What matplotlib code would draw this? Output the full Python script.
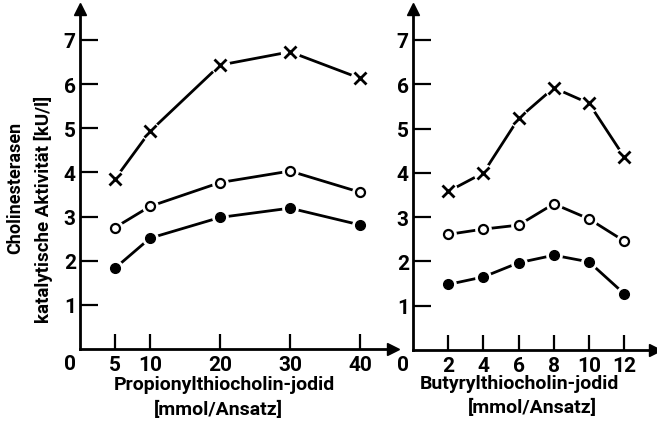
import numpy as np
import matplotlib
matplotlib.use("Agg")
import matplotlib.pyplot as plt

plt.rcParams['font.family'] = ['Roboto', 'DejaVu Sans']
plt.rcParams['font.weight'] = 'bold'

# Propionylthiocholin-jodid (left panel)
prop_x = [5, 10, 20, 30, 40]
prop_cross = [3.85, 4.93, 6.43, 6.73, 6.13]
prop_open = [2.75, 3.23, 3.77, 4.03, 3.55]
prop_filled = [1.83, 2.51, 2.98, 3.19, 2.81]

# Butyrylthiocholin-jodid (right panel)
buty_x = [2, 4, 6, 8, 10, 12]
buty_cross = [3.58, 4.00, 5.23, 5.92, 5.57, 4.36]
buty_open = [2.61, 2.73, 2.82, 3.30, 2.96, 2.46]
buty_filled = [1.48, 1.65, 1.97, 2.14, 1.99, 1.27]

y_ticks = [1, 2, 3, 4, 5, 6, 7]

W, H = 657, 427
fig = plt.figure(figsize=(W / 100, H / 100), dpi=100)

ax1 = fig.add_axes([80 / W, (H - 350) / H, 313 / W, 340 / H])
ax2 = fig.add_axes([413 / W, (H - 351) / H, 242 / W, 341 / H])


def draw(ax, x, series, xlim, xticks):
    for ys, kind in series:
        ax.plot(x, ys, color='black', lw=2.0, zorder=2)
        if kind == 'x':
            ax.plot(x, ys, ls='none', marker='o', ms=13, mfc='white', mec='white', zorder=3)
            ax.plot(x, ys, ls='none', marker='x', ms=8, mew=2.0, color='black', zorder=4)
        elif kind == 'open':
            ax.plot(x, ys, ls='none', marker='o', ms=11, mfc='white', mec='white', zorder=3)
            ax.plot(x, ys, ls='none', marker='o', ms=6.5, mfc='white', mec='black', mew=1.6, zorder=4)
        else:
            ax.plot(x, ys, ls='none', marker='o', ms=11, mfc='white', mec='white', zorder=3)
            ax.plot(x, ys, ls='none', marker='o', ms=7, color='black', zorder=4)
    ax.set_xlim(*xlim)
    ax.set_ylim(0, 7.7)
    ax.set_xticks(xticks)
    ax.set_yticks(y_ticks)
    for s in ['top', 'right']:
        ax.spines[s].set_visible(False)
    for s in ['left', 'bottom']:
        ax.spines[s].set_linewidth(2.0)
    ax.tick_params(axis='y', direction='in', length=13, width=1.6, pad=3, labelsize=15)
    ax.tick_params(axis='x', direction='in', length=11, width=1.6, pad=4, labelsize=15)
    ax.plot(1, 0, marker='>', ms=9, color='black', transform=ax.transAxes, clip_on=False)
    ax.plot(0, 1, marker='^', ms=9, color='black', transform=ax.transAxes, clip_on=False)
    ax.annotate('0', xy=(0, 0), xycoords='axes fraction', xytext=(-10, -15),
                textcoords='offset pixels', ha='center', va='center', fontsize=15)


draw(ax1, prop_x, [(prop_cross, 'x'), (prop_open, 'open'), (prop_filled, 'filled')],
     (0, 44.7), prop_x)
draw(ax2, buty_x, [(buty_cross, 'x'), (buty_open, 'open'), (buty_filled, 'filled')],
     (0, 13.75), buty_x)

fig.text(15 / W, 1 - 188 / H, 'Cholinesterasen', rotation=90, ha='center', va='center', fontsize=13)
fig.text(43 / W, 1 - 209 / H, 'katalytische Aktivität [kU/l]', rotation=90,
         ha='center', va='center', fontsize=13.5)

fig.text(224 / W, 1 - 385 / H, 'Propionylthiocholin-jodid', ha='center', va='center', fontsize=14)
fig.text(218 / W, 1 - 410 / H, '[mmol/Ansatz]', ha='center', va='center', fontsize=14)
fig.text(519 / W, 1 - 384 / H, 'Butyrylthiocholin-jodid', ha='center', va='center', fontsize=14)
fig.text(532 / W, 1 - 408 / H, '[mmol/Ansatz]', ha='center', va='center', fontsize=14)

fig.savefig('out.png', dpi=100)
